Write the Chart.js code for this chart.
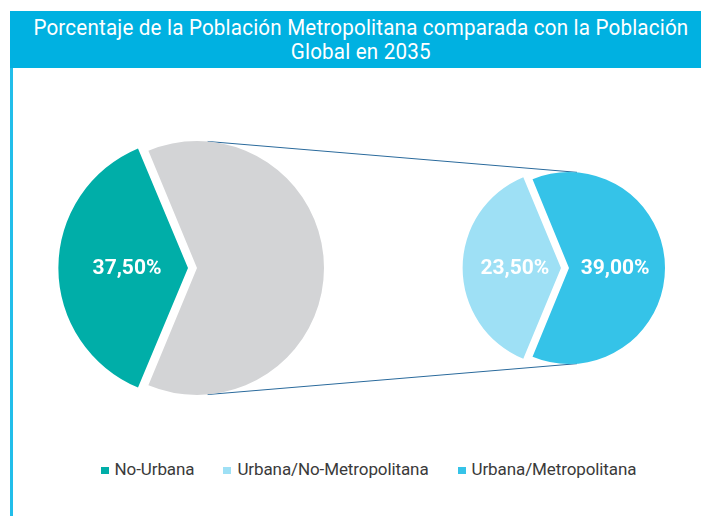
<!DOCTYPE html>
<html>
<head>
<meta charset="utf-8">
<script src="https://cdn.jsdelivr.net/npm/chart.js@4/dist/chart.umd.min.js"></script>
<style>
  html, body { margin: 0; padding: 0; background: #ffffff; }
  body { width: 701px; height: 516px; position: relative; overflow: hidden; font-family: Roboto, "Noto Sans", sans-serif; }
  #titlebar { position: absolute; left: 10px; top: 11px; width: 691px; height: 57px; background: #00B1E1; }
  .tline { position: absolute; left: 0; width: 721px; text-align: center; color: #fff; font-family: Roboto, sans-serif;
    font-size: 22px; line-height: 24px; letter-spacing: 0.2px; white-space: nowrap; }
  .tline span { display: inline-block; transform-origin: 50% 50%; }
  #leftline { position: absolute; left: 10px; top: 68px; width: 3px; height: 448px; background: #22BEEA; }
  #overlay { position: absolute; left: 0; top: 0; z-index: 1; }
  #pieA { position: absolute; left: 47px; top: 118px; z-index: 2; }
  #pieB { position: absolute; left: 449px; top: 148px; z-index: 2; }
  #legend { position: absolute; left: 0; top: 458px; width: 701px; display: flex; justify-content: center; padding-left: 36px; box-sizing: border-box;
    font-family: Roboto, sans-serif; font-size: 17px; letter-spacing: -0.1px; color: #3a3a3a; line-height: 22px; }
  .item { display: flex; align-items: center; margin: 0 14.5px; }
  .sw { width: 8px; height: 7px; margin-right: 6px; margin-top: 2px; }
</style>
</head>
<body>
<div id="titlebar"></div>
<div class="tline" style="top:16px"><span id="t1"></span></div>
<div class="tline" style="top:40px"><span id="t2"></span></div>
<div id="leftline"></div>
<canvas id="overlay" width="701" height="516"></canvas>
<canvas id="pieA" width="300" height="300"></canvas>
<canvas id="pieB" width="240" height="240"></canvas>
<div id="legend"></div>
<script>
// ---- data ----
const titleLines = ["Porcentaje de la Población Metropolitana comparada con la Población", "Global en 2035"];
const mainCategories = ["No-Urbana", "Urbana"];
const mainValues = [37.5, 62.5];
const mainLabelShown = [true, false];
const subCategories = ["Urbana/No-Metropolitana", "Urbana/Metropolitana"];
const subValues = [23.5, 39.0];
const legendCategories = ["No-Urbana", "Urbana/No-Metropolitana", "Urbana/Metropolitana"];

// ---- styles ----
const colorsMain = ["#00AEA8", "#D3D4D6"];
const colorsSub = ["#9EE0F5", "#35C3E8"];
const legendColors = ["#00AEA8", "#9EE0F5", "#35C3E8"];

// title (condensed look via horizontal scaling of real text)
const t1 = document.getElementById('t1'), t2 = document.getElementById('t2');
t1.textContent = titleLines[0];
t2.textContent = titleLines[1];
const sx = 655 / t1.getBoundingClientRect().width;
t1.style.transform = 'scaleX(' + sx + ')';
t2.style.transform = 'scaleX(' + sx + ')';

function fmt(v) { return v.toFixed(2).replace('.', ',') + '%'; }

const valueLabels = {
  id: 'valueLabels',
  afterDatasetsDraw(chart, args, opts) {
    const ctx = chart.ctx;
    const meta = chart.getDatasetMeta(0);
    const vals = chart.data.datasets[0].data;
    ctx.save();
    ctx.fillStyle = '#ffffff';
    ctx.font = 'bold 21px Roboto, sans-serif';
    ctx.textAlign = 'center';
    ctx.textBaseline = 'middle';
    meta.data.forEach((arc, i) => {
      if (opts.shown && !opts.shown[i]) return;
      const mid = (arc.startAngle + arc.endAngle) / 2;
      const r = arc.outerRadius * 0.48 + (arc.options.offset || 0) / 4;
      ctx.fillText(fmt(vals[i]), arc.x + Math.cos(mid) * r, arc.y + Math.sin(mid) * r + 1);
    });
    ctx.restore();
  }
};

function startRotation(vals) {
  const s = vals.reduce((a, b) => a + b, 0);
  return 270 - (vals[0] / s) * 180;
}

function pieConfig(labels, data, colors, radius, offsets, shown) {
  return {
    type: 'pie',
    data: { labels, datasets: [{ data, backgroundColor: colors, borderWidth: 0, offset: offsets }] },
    options: {
      responsive: false, animation: false, radius: radius,
      rotation: startRotation(data),
      layout: { padding: 0 },
      plugins: { legend: { display: false }, tooltip: { enabled: false }, valueLabels: { shown } }
    },
    plugins: [valueLabels]
  };
}

const chartA = new Chart(document.getElementById('pieA'), pieConfig(mainCategories, mainValues, colorsMain, 127, [36, 0], mainLabelShown));
const chartB = new Chart(document.getElementById('pieB'), pieConfig(subCategories, subValues, colorsSub, 96, [32, 0], [true, true]));

// connector lines: external tangents between the "Urbana" circle and the secondary pie
function drawConnectors() {
  const cA = document.getElementById('pieA'), cB = document.getElementById('pieB');
  const a = chartA.getDatasetMeta(0).data[1];
  const b = chartB.getDatasetMeta(0).data[1];
  const x1 = a.x + cA.offsetLeft, y1 = a.y + cA.offsetTop, r1 = a.outerRadius;
  const x2 = b.x + cB.offsetLeft, y2 = b.y + cB.offsetTop, r2 = b.outerRadius;
  const d = Math.hypot(x2 - x1, y2 - y1);
  const th = Math.asin((r1 - r2) / d);
  const ctx = document.getElementById('overlay').getContext('2d');
  ctx.strokeStyle = '#2A6A9C';
  ctx.lineWidth = 1;
  [-1, 1].forEach(sgn => {
    const nx = Math.sin(th), ny = sgn * Math.cos(th);
    ctx.beginPath();
    ctx.moveTo(x1 + r1 * nx, y1 + r1 * ny);
    ctx.lineTo(x2 + r2 * nx, y2 + r2 * ny);
    ctx.stroke();
  });
}
drawConnectors();

const lg = document.getElementById('legend');
legendCategories.forEach((c, i) => {
  const it = document.createElement('div'); it.className = 'item';
  const sw = document.createElement('div'); sw.className = 'sw'; sw.style.background = legendColors[i];
  const tx = document.createElement('span'); tx.textContent = c;
  it.appendChild(sw); it.appendChild(tx); lg.appendChild(it);
});
</script>
</body>
</html>
